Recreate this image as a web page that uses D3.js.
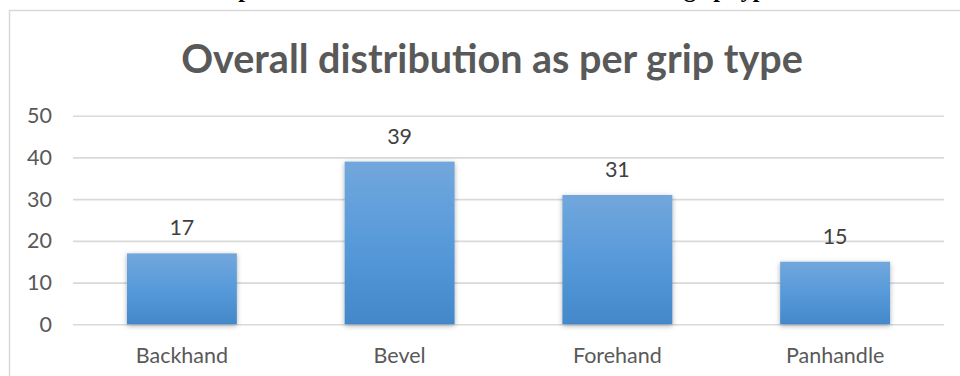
<!DOCTYPE html>
<html>
<head>
<meta charset="utf-8">
<script src="https://cdn.jsdelivr.net/npm/d3@7"></script>
<style>
  html, body { margin: 0; padding: 0; background: #ffffff; }
  svg { display: block; }
</style>
</head>
<body>
<svg id="chart" width="960" height="376"></svg>
<script>
// ---- data ----
const categories = ["Backhand", "Bevel", "Forehand", "Panhandle"];
const values = [17, 39, 31, 15];
const yTicks = [0, 10, 20, 30, 40, 50];
const chartTitle = "Overall distribution as per grip type";
const captionStart = "Graph 1: Overall distribution based on the";
const captionEnd = "grip type";

// ---- layout ----
const W = 960, H = 376;
const plot = { left: 73, right: 944, top: 115.7, bottom: 324.3 };
const textColor = "#595959";
const gridColor = "#d9d9d9";
const font = "Lato, 'Open Sans', sans-serif";

const svg = d3.select("#chart");

// defs: gradient + shadow
const defs = svg.append("defs");
const grad = defs.append("linearGradient")
  .attr("id", "barGrad").attr("x1", 0).attr("y1", 0).attr("x2", 0).attr("y2", 1);
grad.append("stop").attr("offset", "0%").attr("stop-color", "#72a7dc");
grad.append("stop").attr("offset", "50%").attr("stop-color", "#579ada");
grad.append("stop").attr("offset", "100%").attr("stop-color", "#4388c9");
const shadow = defs.append("filter").attr("id", "shadow")
  .attr("x", "-20%").attr("y", "-20%").attr("width", "140%").attr("height", "140%");
shadow.append("feDropShadow")
  .attr("dx", 0).attr("dy", 1.5).attr("stdDeviation", 2.5)
  .attr("flood-color", "#000").attr("flood-opacity", 0.32);

// caption above the chart, cropped by the page edge as in the reference (only descenders visible)
svg.append("text")
  .attr("x", 197).attr("y", -3)
  .attr("font-family", "'Liberation Serif', serif")
  .attr("font-weight", "bold").attr("font-size", 24)
  .attr("fill", "#000").text(captionStart);
svg.append("text")
  .attr("x", 684).attr("y", -3)
  .attr("font-family", "'Liberation Serif', serif")
  .attr("font-weight", "bold").attr("font-size", 24)
  .attr("fill", "#000").text(captionEnd);

// chart border
svg.append("rect")
  .attr("x", 9.5).attr("y", 10.5).attr("width", 980).attr("height", 420)
  .attr("fill", "#fff").attr("stroke", gridColor).attr("stroke-width", 1.5);

// title
svg.append("text")
  .attr("x", 492).attr("y", 73)
  .attr("text-anchor", "middle")
  .attr("font-family", font).attr("font-weight", "bold").attr("font-size", 39.5)
  .attr("fill", textColor)
  .text(chartTitle);

// scales
const x = d3.scaleBand()
  .domain(categories)
  .range([plot.left, plot.right])
  .paddingInner(0.495)
  .paddingOuter(0.2475);
const y = d3.scaleLinear()
  .domain([0, 50])
  .range([plot.bottom, plot.top]);

// y axis with gridlines
const yAxis = svg.append("g")
  .attr("transform", `translate(${plot.left},0)`)
  .call(d3.axisLeft(y).tickValues(yTicks).tickSize(-(plot.right - plot.left)).tickPadding(21));
yAxis.select(".domain").remove();
yAxis.selectAll(".tick line").attr("stroke", gridColor).attr("stroke-width", 1.6);
yAxis.selectAll(".tick text")
  .attr("font-family", font).attr("font-size", 21.5).attr("fill", textColor);

// bars
svg.append("g").selectAll("rect")
  .data(values)
  .join("rect")
  .attr("x", (d, i) => x(categories[i]))
  .attr("y", d => y(d))
  .attr("width", x.bandwidth())
  .attr("height", d => y(0) - y(d))
  .attr("fill", "url(#barGrad)")
  .attr("filter", "url(#shadow)");

// value labels
svg.append("g").selectAll("text")
  .data(values)
  .join("text")
  .attr("x", (d, i) => x(categories[i]) + x.bandwidth() / 2)
  .attr("y", d => y(d) - 18)
  .attr("text-anchor", "middle")
  .attr("font-family", font).attr("font-size", 21.5).attr("fill", "#404040")
  .text(d => d);

// x axis
const xAxis = svg.append("g")
  .attr("transform", `translate(0,${plot.bottom})`)
  .call(d3.axisBottom(x).tickSize(0).tickPadding(0));
xAxis.select(".domain").remove();
xAxis.selectAll(".tick text")
  .attr("y", 39).attr("dy", null)
  .attr("font-family", font).attr("font-size", 21.5).attr("fill", textColor);
</script>
</body>
</html>
